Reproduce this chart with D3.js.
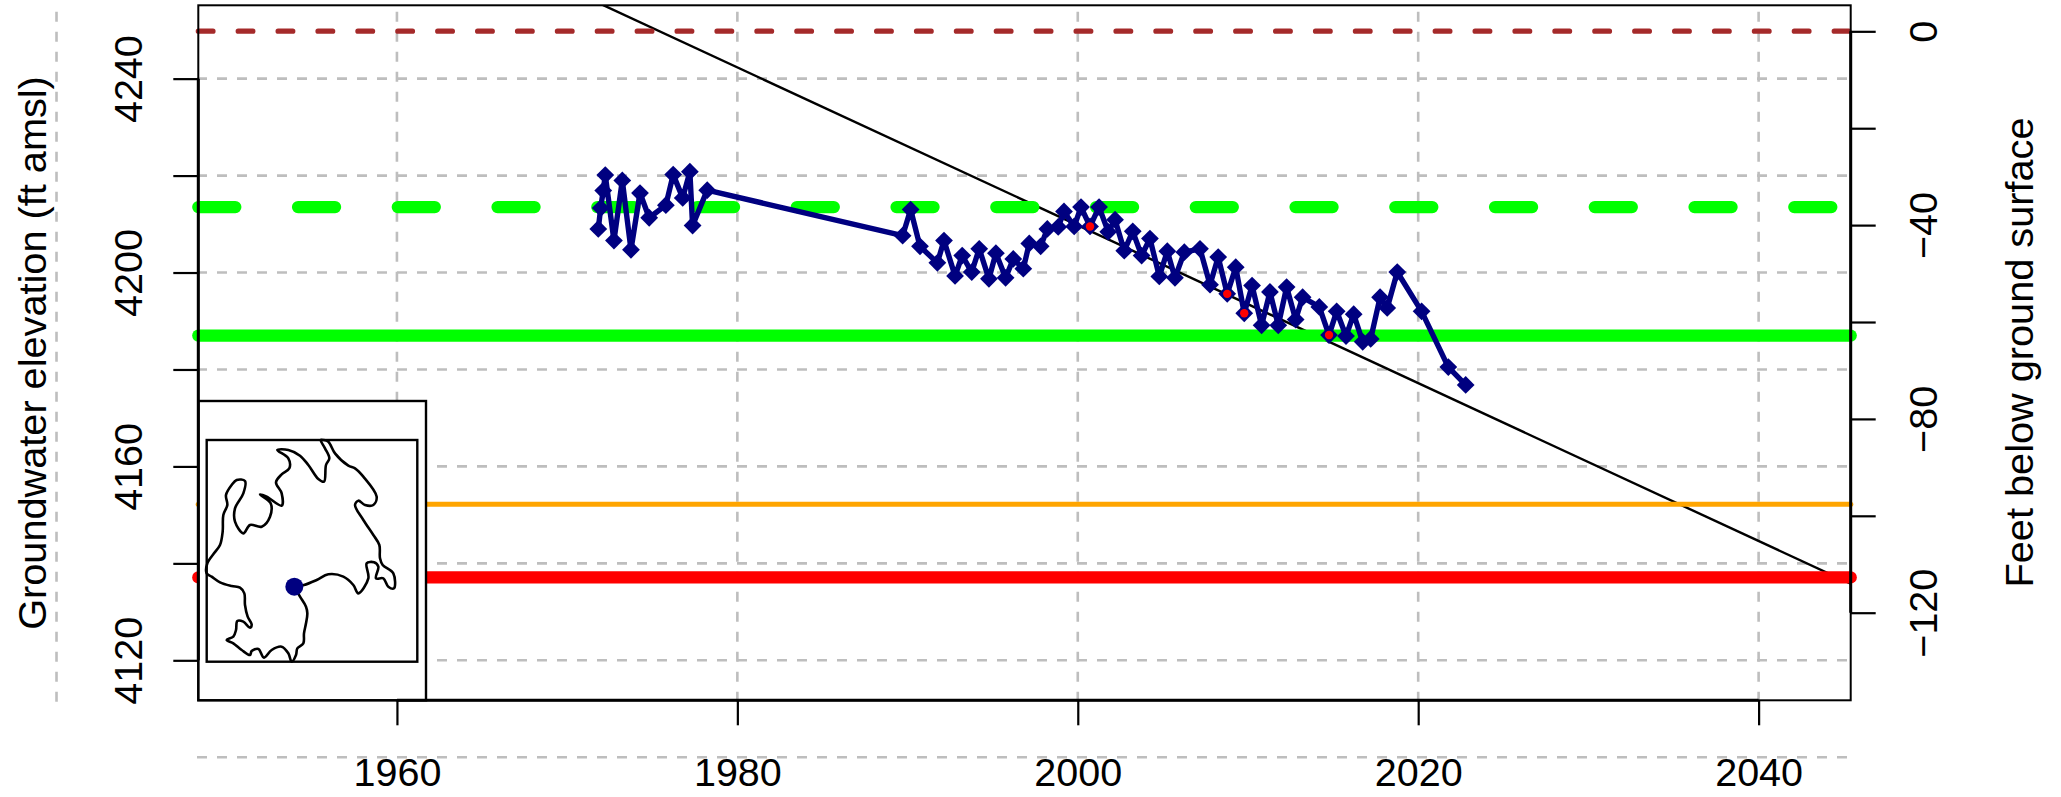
<!DOCTYPE html>
<html><head><meta charset="utf-8">
<script src="https://cdn.jsdelivr.net/npm/d3@7/dist/d3.min.js"></script>
<style>html,body{margin:0;padding:0;background:#fff}svg{display:block}text{font-family:"Liberation Sans",Arial,sans-serif;fill:#000}</style>
</head><body><svg id="c" width="2061" height="797"></svg>
<script>
// Groundwater level observations
const obsYears=[1971.83,1971.97,1972.12,1972.24,1972.75,1973.24,1973.75,1974.28,1974.82,1975.8,1976.23,1976.79,1977.21,1977.37,1978.23,
1989.71,1990.18,1990.73,1991.75,1992.14,1992.79,1993.21,1993.77,1994.21,1994.78,1995.19,1995.76,1996.21,1996.8,1997.15,1997.82,1998.21,1998.85,1999.19,1999.79,2000.19,2000.72,2001.25,2001.79,2002.19,2002.73,2003.23,2003.75,2004.24,2004.79,2005.26,2005.71,2006.26,2007.18,2007.77,2008.25,2008.78,2009.28,2009.78,2010.24,2010.8,2011.29,2011.78,2012.27,2012.8,2013.21,2014.19,2014.76,2015.21,2015.76,2016.21,2016.74,2017.21,2017.76,2018.18,2018.77,2020.2,2021.77,2022.79];
const obsElev=[4209.0,4213.3,4216.9,4220.1,4206.6,4219.0,4204.7,4216.4,4211.3,4213.9,4220.2,4215.4,4220.8,4209.7,4217.0,
4207.6,4213.0,4205.4,4202.0,4206.6,4199.3,4203.5,4200.1,4204.9,4198.7,4204.0,4198.9,4202.8,4200.8,4206.0,4205.4,4209.0,4209.4,4212.6,4209.5,4213.5,4209.5,4213.5,4208.4,4210.9,4204.5,4208.5,4203.5,4207.0,4199.2,4204.4,4198.9,4204.2,4204.9,4197.5,4203.2,4195.6,4201.1,4191.6,4197.3,4189.1,4196.0,4189.1,4197.0,4190.3,4194.9,4192.9,4187.1,4192.0,4186.9,4191.4,4185.7,4186.3,4194.9,4192.7,4200.1,4192.0,4180.5,4176.8];
// Observations used for the trend (red dots)
const trendObsYears=[2000.72,2008.78,2009.78,2014.76];
const trendObsElev=[4209.5,4195.6,4191.6,4187.1];
// Trend line end points
const trendYears=[1948.33,2045.41];
const trendElev=[4293.9,4135.8];
// Reference levels (ft amsl)
const surfaceElev=4249.8, dashedGreenElev=4213.5, solidGreenElev=4187.0, orangeElev=4152.2, redElev=4137.1;
// Axes
const xTicks=[1960,1980,2000,2020,2040];
const xGrid=[1940,1960,1980,2000,2020,2040];
const yTicks=[4120,4140,4160,4180,4200,4220,4240];
const yLabels=[4120,4160,4200,4240];
const yGrid=[4100,4120,4140,4160,4180,4200,4220,4240];
const depthTicks=[0,-20,-40,-60,-80,-100,-120];
const depthLabels=[0,-40,-80,-120];
const yTitle="Groundwater elevation (ft amsl)", depthTitle="Feet below ground surface";
// Inset basin outline, in map units
const basinOutline=[[283,455],[300,485],[318,515],[322,535],[318,565],[312,595],[310,625],[292,640],[288,660],[275,680],[265,655],[245,635],[215,645],[192,668],[175,642],[155,648],[150,660],[125,645],[100,625],[80,615],[100,605],[108,585],[112,558],[130,560],[150,578],[155,568],[143,545],[135,510],[133,475],[120,458],[95,453],[60,442],[35,425],[20,415],[22,385],[42,355],[60,330],[68,290],[70,240],[82,210],[78,180],[95,150],[110,135],[135,138],[130,175],[105,220],[105,260],[130,295],[150,270],[185,275],[210,245],[212,205],[180,178],[200,185],[245,212],[245,175],[228,142],[245,118],[268,100],[265,70],[232,45],[265,45],[300,62],[325,90],[355,132],[372,140],[378,90],[388,70],[375,40],[362,15],[370,15],[385,20],[405,55],[445,92],[465,100],[490,125],[530,185],[520,210],[495,210],[475,197],[465,210],[490,255],[520,300],[538,330],[540,370],[548,390],[580,415],[582,460],[565,455],[550,430],[528,430],[535,395],[522,382],[500,385],[505,430],[475,475],[460,450],[430,425],[385,418],[350,435],[312,450],[283,455]];
const wellLocation=[283,455];

const L=198.3,R=1850.7,T=5.3,B=700.3;
const x=d3.scaleLinear().domain([1948.33,2045.41]).range([L,R]);
const y=d3.scaleLinear().domain([4111.75,4255.13]).range([B,T]);
const yD=d3.scaleLinear().domain([-138.08,5.37]).range([B,T]);
const svg=d3.select("#c");
const FS=39.5;
svg.append("defs").append("clipPath").attr("id","plot").append("rect").attr("x",L).attr("y",T).attr("width",R-L).attr("height",B-T);

// grid
const grid=svg.append("g").attr("stroke","#bebebe").attr("stroke-width",2.6).attr("stroke-dasharray","10 10");
grid.selectAll(".h").data(yGrid).join("line").attr("x1",L-1.3).attr("x2",R).attr("y1",d=>y(d)).attr("y2",d=>y(d));
grid.selectAll(".v").data(xGrid).join("line").attr("x1",d=>x(d)).attr("x2",d=>x(d)).attr("y1",B+1.4).attr("y2",T);

// trend line
const line=d3.line().x(d=>x(d[0])).y(d=>y(d[1]));
svg.append("path").attr("clip-path","url(#plot)").attr("d",line(d3.zip(trendYears,trendElev))).attr("fill","none").attr("stroke","#000").attr("stroke-width",2.4);

// reference levels
function level(v,col,w,dash){
  svg.append("line").attr("x1",L).attr("x2",R).attr("y1",y(v)).attr("y2",y(v)).attr("stroke",col).attr("stroke-width",w)
   .attr("stroke-linecap","round").attr("stroke-dasharray",dash);
}
level(surfaceElev,"#a52a2a",5.2,"14.7 25.2");
level(dashedGreenElev,"#00ff00",12.3,"37 62.75");
level(solidGreenElev,"#00ff00",12.3,null);
level(orangeElev,"#ffa500",5.2,null);
level(redElev,"#ff0000",12.3,null);

// observations
svg.append("path").attr("d",line(d3.zip(obsYears,obsElev))).attr("fill","none").attr("stroke","#000080").attr("stroke-width",5.4).attr("stroke-linejoin","round");
const diamond=d3.symbol(d3.symbolSquare,158);
svg.selectAll(".pt").data(d3.zip(obsYears,obsElev)).join("path").attr("d",diamond).attr("fill","#000080")
  .attr("transform",d=>`translate(${x(d[0])},${y(d[1])}) rotate(45)`);
svg.selectAll(".rd").data(d3.zip(trendObsYears,trendObsElev)).join("circle").attr("cx",d=>x(d[0])).attr("cy",d=>y(d[1])).attr("r",4.2).attr("fill","#ff0000");

// inset
svg.append("rect").attr("x",L).attr("y",401).attr("width",426-L).attr("height",B-401).attr("fill","#fff").attr("stroke","#000").attr("stroke-width",2.4);
svg.append("rect").attr("x",206.7).attr("y",440).attr("width",210.6).attr("height",221.7).attr("fill","none").attr("stroke","#000").attr("stroke-width",2.4);
const mx=d3.scaleLinear().domain([0,675]).range([200,425]);
const my=d3.scaleLinear().domain([0,360]).range([435,555]);
svg.append("path").attr("d",d3.line().x(d=>mx(d[0])).y(d=>my(d[1])).curve(d3.curveCatmullRom.alpha(.5))(basinOutline))
  .attr("fill","none").attr("stroke","#000").attr("stroke-width",2.6).attr("stroke-linejoin","round");
svg.append("circle").attr("cx",mx(wellLocation[0])).attr("cy",my(wellLocation[1])).attr("r",9).attr("fill","#000080");

// box
svg.append("rect").attr("x",L).attr("y",T).attr("width",R-L).attr("height",B-T).attr("fill","none").attr("stroke","#000").attr("stroke-width",2);

// axes
function finish(g,axisFrom,axisTo,vert){
  g.select(".domain").remove();
  g.selectAll(".tick line").attr("stroke","#000").attr("stroke-width",2.2);
  g.selectAll("text").attr("font-size",FS).attr("fill","#000").attr("font-family",'"Liberation Sans",Arial,sans-serif');
  const l=g.append("line").attr("stroke","#000").attr("stroke-width",3);
  if(vert) l.attr("y1",axisFrom).attr("y2",axisTo); else l.attr("x1",axisFrom).attr("x2",axisTo);
}
const fmt=v=>String(v).replace("-","\u2212");
const gL=svg.append("g").attr("transform",`translate(${L},0)`)
  .call(d3.axisLeft(y).tickValues(yTicks).tickSize(25).tickFormat(d=>yLabels.includes(d)?fmt(d):""));
finish(gL,y(4120),y(4240),true);
gL.selectAll("text").attr("x",0).attr("y",0).attr("dy",0).attr("text-anchor","middle").attr("transform",`translate(-56.6,0) rotate(-90)`);
const gR=svg.append("g").attr("transform",`translate(${R},0)`)
  .call(d3.axisRight(yD).tickValues(depthTicks).tickSize(25).tickFormat(d=>depthLabels.includes(d)?fmt(d):""));
finish(gR,yD(0),yD(-120),true);
gR.selectAll("text").attr("x",0).attr("y",0).attr("dy",0).attr("text-anchor","middle").attr("transform",`translate(86.3,0) rotate(-90)`);
const gB=svg.append("g").attr("transform",`translate(0,${B})`)
  .call(d3.axisBottom(x).tickValues(xTicks).tickSize(25).tickFormat(d=>String(d)));
finish(gB,x(1960),x(2040),false);
gB.selectAll("text").attr("y",85.7).attr("dy",0).attr("text-anchor","middle");

// titles
svg.append("text").attr("transform","translate(45.7,353) rotate(-90)").attr("text-anchor","middle").attr("font-size",39.7).text(yTitle);
svg.append("text").attr("transform","translate(2033,352.5) rotate(-90)").attr("text-anchor","middle").attr("font-size",39.7).text(depthTitle);
</script></body></html>
